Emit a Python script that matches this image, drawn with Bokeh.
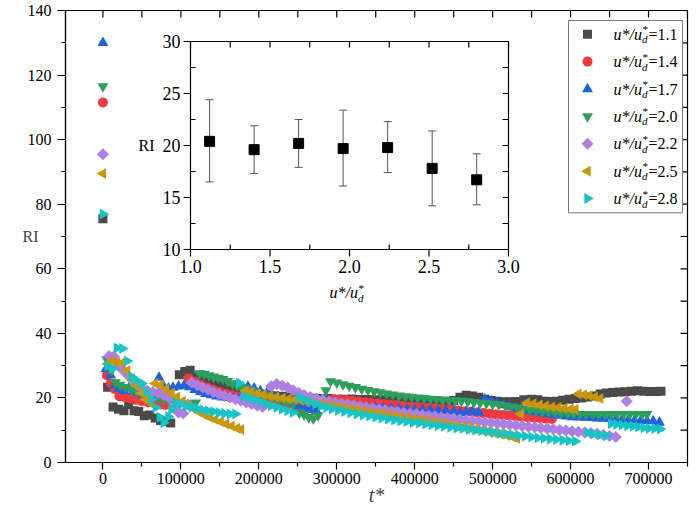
import math
from bokeh.plotting import figure
from bokeh.models import (FixedTicker, NumeralTickFormatter, ColumnDataSource, Range1d)
from bokeh.core.properties import value
from bokeh.embed import file_html
from bokeh.resources import INLINE

# ---------------- data ----------------
ratio_labels = ["1.1", "1.4", "1.7", "2.0", "2.2", "2.5", "2.8"]

grey_pts = [(0, 75.5), (6000, 23.3), (13000, 17.2), (20000, 16.5), (27000, 16.0), (33000, 18.0), (40000, 16.0),
            (46000, 15.8), (53000, 14.5), (60000, 14.7), (67000, 13.8), (74000, 13.0), (81000, 12.7), (87000, 12.2),
            (98000, 27.2), (105000, 28.2), (112000, 28.6), (120000, 26.5), (128000, 25.8), (136000, 25.2),
            (144000, 24.6), (152000, 24.0), (160000, 23.4), (168000, 22.9), (176000, 22.4), (184000, 22.0),
            (192000, 21.6), (200000, 21.3), (210000, 21.0), (220000, 20.7), (230000, 20.5), (240000, 20.3),
            (250000, 20.1), (260000, 20.0), (270000, 19.9), (280000, 19.8), (290000, 19.8), (300000, 19.6),
            (310000, 19.6), (320000, 19.7), (330000, 19.5), (340000, 19.5), (350000, 19.4), (360000, 19.4),
            (370000, 19.3), (380000, 19.3), (390000, 19.2), (400000, 19.2), (410000, 19.1), (420000, 19.1),
            (430000, 19.0), (440000, 19.0), (450000, 19.2), (458000, 20.2), (466000, 20.8), (474000, 20.6),
            (482000, 20.2), (490000, 19.6), (498000, 19.2), (506000, 19.0), (514000, 18.8), (522000, 18.8),
            (530000, 18.9), (540000, 19.4), (550000, 19.6), (558000, 19.4), (566000, 19.0), (574000, 18.9),
            (582000, 19.0), (590000, 19.3), (598000, 19.6), (606000, 19.8), (614000, 20.0), (622000, 20.3),
            (630000, 20.6), (638000, 21.2), (646000, 21.5), (654000, 21.7), (662000, 21.8), (670000, 21.9),
            (678000, 22.1), (686000, 22.2), (694000, 22.1), (702000, 22.0), (710000, 22.0), (716000, 22.1)]

red_pts = [(0, 111.5), (5000, 27.0), (10000, 24.5), (15000, 22.8), (21000, 20.5), (28000, 20.2), (35000, 19.8),
           (42000, 19.4), (50000, 19.0), (58000, 18.7), (66000, 18.3), (74000, 18.0), (80000, 17.8),
           (110000, 26.0), (118000, 25.0), (126000, 24.0), (134000, 23.2), (142000, 22.5), (150000, 21.8),
           (158000, 21.3), (166000, 20.8), (174000, 20.4), (182000, 20.0), (190000, 19.6), (198000, 19.2),
           (206000, 18.8), (214000, 18.4), (222000, 18.0), (230000, 17.7), (238000, 17.4), (246000, 17.2),
           (254000, 17.0), (262000, 16.8), (270000, 16.6),
           (296000, 19.6), (304000, 19.5), (312000, 19.3), (320000, 19.1), (328000, 18.9), (336000, 18.7),
           (344000, 18.5), (352000, 18.3), (360000, 18.1), (368000, 17.9), (376000, 17.7), (384000, 17.5),
           (392000, 17.3), (400000, 17.2), (408000, 17.0), (416000, 16.9), (424000, 16.7), (432000, 16.6),
           (440000, 16.4), (448000, 16.3), (456000, 16.1), (464000, 15.9), (472000, 15.7), (480000, 15.5),
           (488000, 15.3), (496000, 15.1), (504000, 14.9), (512000, 14.7), (520000, 14.6), (528000, 14.4),
           (536000, 14.2), (544000, 14.1), (552000, 13.9), (560000, 13.8), (568000, 13.6), (576000, 13.5)]

blue_pts = [(0, 130.0), (4000, 29.0), (10000, 27.0), (15000, 24.0), (21000, 22.8), (27000, 22.2), (33000, 23.0),
            (39000, 22.0), (45000, 21.5), (52000, 21.0), (58000, 20.6), (64000, 20.3),
            (72000, 26.3), (78000, 23.5), (84000, 23.0), (90000, 23.2), (97000, 23.6), (104000, 23.8),
            (111000, 23.4), (118000, 22.5), (125000, 21.8), (132000, 21.3), (139000, 20.9), (146000, 20.5),
            (153000, 20.2), (160000, 20.0), (167000, 19.8), (174000, 19.6),
            (186000, 23.5), (194000, 23.0), (202000, 22.2), (210000, 21.4), (218000, 20.6), (226000, 19.8),
            (234000, 19.0), (242000, 18.3), (250000, 17.6), (258000, 17.0), (266000, 16.4), (274000, 16.0),
            (282000, 17.6), (290000, 17.5), (300000, 17.4), (310000, 17.3), (320000, 17.2), (330000, 17.1),
            (340000, 17.0), (350000, 16.9), (360000, 16.8), (370000, 16.7), (380000, 16.6), (390000, 16.5),
            (400000, 16.4), (410000, 16.3), (420000, 16.2), (430000, 16.1), (440000, 16.0), (450000, 15.8),
            (458000, 15.3), (466000, 15.6), (474000, 15.8), (482000, 15.5),
            (490000, 19.6), (498000, 19.0), (506000, 18.4), (514000, 17.8), (522000, 17.3), (530000, 16.8),
            (538000, 16.4), (546000, 16.0), (554000, 15.6), (562000, 15.3), (570000, 15.0), (578000, 14.7),
            (586000, 14.5), (594000, 14.3), (602000, 14.1), (610000, 14.0), (618000, 13.9), (626000, 13.8),
            (634000, 13.7), (642000, 13.6), (650000, 13.5), (658000, 13.4), (666000, 13.3), (674000, 13.2),
            (682000, 13.1), (690000, 13.0), (698000, 12.9), (706000, 12.8), (714000, 12.4)]

green_pts = [(0, 116.5), (5000, 31.9), (11000, 28.5), (16000, 24.8), (22000, 24.0), (29000, 23.3), (36000, 22.6),
             (43000, 22.0), (50000, 21.4), (57000, 20.9), (64000, 20.4), (71000, 20.0), (78000, 19.6),
             (85000, 19.2), (92000, 18.8), (99000, 18.5), (106000, 18.2), (113000, 17.9), (119000, 18.5),
             (124000, 27.6), (130000, 27.4), (136000, 27.0), (142000, 26.6), (148000, 26.2), (154000, 25.8),
             (160000, 25.2), (166000, 24.5), (172000, 23.9), (178000, 23.3), (184000, 22.7), (190000, 22.2),
             (196000, 21.7), (202000, 21.2), (208000, 20.8), (214000, 20.4), (220000, 20.0), (226000, 19.6),
             (232000, 19.2), (238000, 18.8), (244000, 18.4),
             (252000, 15.4), (258000, 14.8), (264000, 14.0), (270000, 13.6), (276000, 14.6),
             (286000, 22.3), (292000, 25.1), (300000, 24.7), (308000, 24.2), (316000, 23.7), (324000, 23.3),
             (332000, 22.8), (340000, 22.4), (348000, 22.0), (356000, 21.7), (364000, 21.3), (372000, 21.0),
             (380000, 20.7), (388000, 20.5), (396000, 20.3), (404000, 20.1), (412000, 19.9), (420000, 19.7),
             (428000, 19.6), (436000, 19.4), (444000, 19.3), (452000, 19.2), (460000, 19.1), (468000, 18.9),
             (476000, 18.7), (484000, 18.5), (492000, 18.3), (500000, 18.1), (508000, 17.9), (516000, 17.6),
             (524000, 17.3), (532000, 17.0), (540000, 16.7), (548000, 16.4), (556000, 16.1), (564000, 15.9),
             (572000, 15.7), (580000, 15.5), (588000, 15.3), (596000, 15.2), (604000, 15.1), (612000, 15.0),
             (620000, 15.0), (628000, 15.0), (636000, 15.0), (644000, 15.0), (652000, 15.0), (660000, 15.0),
             (668000, 15.0), (676000, 15.0), (684000, 15.0), (692000, 15.0), (698000, 15.0)]

purple_pts = [(0, 95.5), (8000, 33.0), (14000, 32.8), (20000, 30.0), (26000, 28.5), (32000, 27.0), (38000, 25.5),
              (44000, 24.0), (50000, 23.0), (57000, 22.2), (64000, 21.8), (71000, 21.5), (78000, 21.0),
              (85000, 20.0), (91000, 17.0), (97000, 15.5), (103000, 15.2), (109000, 18.0),
              (114000, 24.8), (121000, 24.0), (128000, 23.2), (135000, 22.5), (142000, 21.8), (149000, 21.2),
              (156000, 20.6), (163000, 20.1), (170000, 19.6), (177000, 19.1), (184000, 18.6), (191000, 18.1),
              (198000, 17.6), (205000, 17.2),
              (216000, 23.6), (223000, 24.3), (230000, 23.8), (237000, 23.2), (244000, 22.4), (251000, 21.6),
              (258000, 20.9), (266000, 20.3), (274000, 19.8), (282000, 19.4), (290000, 19.0), (298000, 18.6),
              (306000, 18.3), (314000, 18.0), (322000, 17.7), (330000, 17.4), (338000, 17.1), (346000, 16.8),
              (354000, 16.5), (362000, 16.2), (370000, 15.9), (378000, 15.7), (386000, 15.4), (394000, 15.2),
              (402000, 15.0), (410000, 14.7), (418000, 14.5), (426000, 14.3), (434000, 14.0), (442000, 13.8),
              (450000, 13.6), (458000, 13.4), (466000, 13.1), (474000, 12.9), (482000, 12.7), (490000, 12.5),
              (498000, 12.3), (506000, 12.1), (514000, 11.9), (522000, 11.7), (530000, 11.5), (538000, 11.3),
              (546000, 11.1), (554000, 10.9), (562000, 10.7), (570000, 10.5), (578000, 10.3), (586000, 10.1),
              (594000, 9.9), (602000, 9.7), (610000, 9.5), (618000, 9.3), (626000, 9.1), (634000, 8.9),
              (642000, 8.6), (650000, 8.2), (658000, 7.9),
              (672000, 19.0)]

gold_pts = [(0, 89.5), (6000, 30.5), (12000, 31.5), (18000, 31.0), (25000, 31.0), (31000, 28.5), (37000, 26.0),
            (43000, 24.0), (49000, 21.5), (55000, 19.5), (61000, 18.5),
            (67000, 24.5), (74000, 24.0), (81000, 22.8), (88000, 21.5), (95000, 20.3), (102000, 19.0),
            (109000, 17.8), (116000, 16.7), (123000, 15.7), (130000, 14.8), (137000, 14.0), (144000, 13.3),
            (151000, 12.6), (158000, 11.9), (165000, 11.3), (172000, 10.6), (177000, 10.2),
            (183000, 22.2), (190000, 21.8), (198000, 21.3), (206000, 20.9), (214000, 20.5), (222000, 20.2),
            (230000, 19.9), (238000, 19.7), (246000, 19.5), (254000, 19.2), (262000, 18.8), (270000, 18.5),
            (278000, 18.1), (286000, 17.8), (294000, 17.5), (302000, 17.2), (310000, 16.9), (318000, 16.6),
            (326000, 16.3), (334000, 16.0), (342000, 15.7), (350000, 15.4), (358000, 15.1), (366000, 14.8),
            (374000, 14.5), (382000, 14.2), (390000, 13.9), (398000, 13.6), (406000, 13.3), (414000, 13.0),
            (422000, 12.7), (430000, 12.4), (438000, 12.1), (446000, 11.8), (454000, 11.4), (462000, 11.1),
            (470000, 10.8), (478000, 10.4), (486000, 10.0), (494000, 9.6), (502000, 9.2), (510000, 8.8),
            (518000, 8.4), (526000, 7.9), (531000, 7.5),
            (536000, 15.0), (544000, 18.5), (552000, 18.2), (560000, 17.8), (568000, 17.5), (576000, 17.2),
            (584000, 17.0), (592000, 16.8), (600000, 16.6), (606000, 16.4),
            (610000, 21.2), (617000, 21.0), (624000, 20.7), (631000, 20.3), (638000, 19.8)]

cyan_pts = [(0, 77.0), (6000, 30.0), (12000, 29.0), (18000, 35.5), (25000, 35.3), (31000, 31.4), (37000, 26.5),
            (43000, 25.5), (50000, 24.5), (56000, 22.0), (62000, 19.5), (68000, 17.0), (73000, 14.0),
            (78000, 12.3), (84000, 14.2), (88000, 16.3),
            (93000, 18.5), (100000, 18.0), (107000, 17.5), (114000, 17.1), (121000, 16.7), (128000, 16.3),
            (135000, 16.0), (142000, 15.7), (149000, 15.4), (156000, 15.2), (163000, 15.0), (170000, 15.0),
            (175000, 24.6),
            (181000, 20.5), (188000, 20.0), (195000, 19.4), (202000, 18.8), (209000, 18.2), (216000, 17.6),
            (223000, 17.0), (230000, 16.5), (237000, 16.0), (244000, 15.5),
            (252000, 20.2), (259000, 19.5), (266000, 18.8), (273000, 18.1), (280000, 17.5), (287000, 17.0),
            (294000, 16.6), (302000, 16.2), (310000, 15.8), (318000, 15.4), (326000, 15.0), (334000, 14.7),
            (342000, 14.4), (350000, 14.1), (358000, 13.8), (366000, 13.5), (374000, 13.2), (382000, 12.9),
            (390000, 12.7), (398000, 12.4), (406000, 12.2), (414000, 11.9), (422000, 11.7), (430000, 11.4),
            (438000, 11.2), (446000, 10.9), (454000, 10.7), (462000, 10.5), (470000, 10.2), (478000, 10.0),
            (486000, 9.8), (494000, 9.6), (502000, 9.3), (510000, 9.0), (518000, 8.8), (526000, 8.5),
            (534000, 8.3), (542000, 8.1), (550000, 7.9), (558000, 7.7), (566000, 7.5), (574000, 7.3),
            (582000, 7.1), (590000, 6.9), (598000, 6.7), (606000, 6.6),
            (622000, 9.2), (630000, 8.9), (638000, 8.6), (646000, 8.3),
            (652000, 12.0), (659000, 11.8), (666000, 11.6), (673000, 11.4), (680000, 11.2), (687000, 11.0),
            (694000, 10.8), (701000, 10.6), (708000, 10.5), (715000, 10.4)]

# inset: mean RI vs u*/ud* with error bars
inset_ratio = [1.12, 1.40, 1.68, 1.96, 2.24, 2.52, 2.80]
inset_mean = [20.4, 19.6, 20.2, 19.7, 19.8, 17.8, 16.7]
inset_upper = [24.4, 21.9, 22.5, 23.4, 22.3, 21.4, 19.2]
inset_lower = [16.5, 17.3, 17.9, 16.1, 17.4, 14.2, 14.3]

main_xticks = [0, 100000, 200000, 300000, 400000, 500000, 600000, 700000]
main_xminor = [-50000, 50000, 150000, 250000, 350000, 450000, 550000, 650000, 750000]
main_yticks = [0, 20, 40, 60, 80, 100, 120, 140]
main_yminor = [10, 30, 50, 70, 90, 110, 130]
inset_xticks = [1.0, 1.5, 2.0, 2.5, 3.0]
inset_xminor = [1.25, 1.75, 2.25, 2.75]
inset_yticks = [10, 15, 20, 25, 30]
inset_yminor = [12.5, 17.5, 22.5, 27.5]

# ---------------- style / layout ----------------
SERIF = "Liberation Serif"
series = [
    (grey_pts, "#4a4a4a", "square", 0.0, 9),
    (red_pts, "#f03a3f", "circle", 0.0, 10),
    (blue_pts, "#1f62dc", "triangle", 0.0, 11),
    (green_pts, "#2e9e5c", "inverted_triangle", 0.0, 11),
    (purple_pts, "#ac7fe0", "square", math.pi / 4, 8.5),
    (gold_pts, "#c9960f", "triangle", math.pi / 2, 11),
    (cyan_pts, "#18c3c6", "triangle", -math.pi / 2, 11),
]

W, H = 689, 510
BL, BR, BT, BB = 65, 2, 10, 48
FW, FH = float(W - BL - BR), float(H - BT - BB)   # frame size in px
X0, X1, Y0, Y1 = -48000, 750000, 0, 140

p = figure(width=W, height=H, x_range=Range1d(X0, X1), y_range=Range1d(Y0, Y1),
           output_backend="svg", toolbar_location=None,
           min_border_left=BL, min_border_right=BR, min_border_top=BT, min_border_bottom=BB)
p.grid.visible = False
p.outline_line_color = "black"
p.outline_line_width = 1.2
p.background_fill_color = "white"
p.border_fill_color = "white"


def style_axis(ax, tick_in, tick_out, minor_in, minor_out, size="16px"):
    ax.axis_line_color = "black"
    ax.axis_line_width = 1.2
    ax.major_tick_line_color = "black"
    ax.minor_tick_line_color = "black"
    ax.major_tick_line_width = 1.2
    ax.minor_tick_line_width = 1.2
    ax.major_tick_in = tick_in
    ax.major_tick_out = tick_out
    ax.minor_tick_in = minor_in
    ax.minor_tick_out = minor_out
    ax.major_label_text_font = SERIF
    ax.major_label_text_font_size = size
    ax.major_label_text_color = "black"


xa = p.xaxis[0]
xa.ticker = FixedTicker(ticks=main_xticks, minor_ticks=main_xminor)
xa.formatter = NumeralTickFormatter(format="0")
style_axis(xa, 0, 7, 0, 4)
xa.major_label_standoff = 3
xa.axis_label = "t*"
xa.axis_label_text_font = SERIF
xa.axis_label_text_font_style = "italic"
xa.axis_label_text_font_size = "20px"
xa.axis_label_standoff = -3

ya = p.yaxis[0]
ya.ticker = FixedTicker(ticks=main_yticks, minor_ticks=main_yminor)
style_axis(ya, 0, 8, 0, 4)
ya.major_label_standoff = 6
ya.axis_label = "RI"
ya.axis_label_orientation = "horizontal"
ya.axis_label_text_font = SERIF
ya.axis_label_text_font_style = "normal"
ya.axis_label_text_font_size = "16px"
ya.axis_label_standoff = -14

# mirrored inward ticks on top and right edges of the main frame
tick_px = 7
dx_main = tick_px * (X1 - X0) / FW
dy_main = tick_px * (Y1 - Y0) / FH
top_t = main_xticks + main_xminor
right_t = main_yticks + main_yminor
p.segment(x0=top_t, y0=[Y1] * len(top_t), x1=top_t, y1=[Y1 - dy_main] * len(top_t),
          line_color="black", line_width=1.2)
p.segment(x0=[X1] * len(right_t), y0=right_t, x1=[X1 - dx_main] * len(right_t), y1=right_t,
          line_color="black", line_width=1.2)

# ---- main scatter series ----
for pts, color, marker, angle, size in series:
    src = ColumnDataSource(dict(t=[a for a, b in pts], ri=[b for a, b in pts]))
    p.scatter("t", "ri", source=src, marker=marker, angle=angle, size=size,
              fill_color=color, line_color=None)

# ---- inset, drawn on extra ranges that map the inset box inside the frame ----
fx0, fx1 = 125 / FW, 443 / FW     # inset frame edges, px from frame left / frame width
fy0, fy1 = 31 / FH, 239 / FH      # inset frame edges, px from frame top / frame height
ixa, ixb = inset_xticks[0], inset_xticks[-1]
iya, iyb = inset_yticks[0], inset_yticks[-1]
xspan = (ixb - ixa) / (fx1 - fx0)
ix_start = ixa - fx0 * xspan
yspan = (iyb - iya) / (fy1 - fy0)
iy_start = iya - (1 - fy1) * yspan
p.extra_x_ranges = {"ix": Range1d(ix_start, ix_start + xspan), "lx": Range1d(0, FW)}
p.extra_y_ranges = {"iy": Range1d(iy_start, iy_start + yspan), "ly": Range1d(0, FH)}
PXX = (fx1 - fx0) * FW / (ixb - ixa)    # px per inset x unit
PXY = (fy1 - fy0) * FH / (iyb - iya)    # px per inset y unit
ins = dict(x_range_name="ix", y_range_name="iy")

p.quad(left=[ixa], right=[ixb], bottom=[iya], top=[iyb], fill_color="white",
       line_color="black", line_width=1.2, **ins)

# error bars
p.segment(x0=inset_ratio, y0=inset_lower, x1=inset_ratio, y1=inset_upper,
          line_color="#555555", line_width=1, **ins)
cap = 4 / PXX
p.segment(x0=[v - cap for v in inset_ratio], y0=inset_upper, x1=[v + cap for v in inset_ratio],
          y1=inset_upper, line_color="#555555", line_width=1, **ins)
p.segment(x0=[v - cap for v in inset_ratio], y0=inset_lower, x1=[v + cap for v in inset_ratio],
          y1=inset_lower, line_color="#555555", line_width=1, **ins)
p.scatter(x=inset_ratio, y=inset_mean, marker="square", size=10, fill_color="black",
          line_color="black", **ins)

# inset ticks
tk = dict(line_color="black", line_width=1.2, **ins)
maj_out, min_in, side_in = 7, 5, 6
xs_all = inset_xticks + inset_xminor
ys_all = inset_yticks + inset_yminor
p.segment(x0=inset_xticks, y0=[iya] * len(inset_xticks), x1=inset_xticks,
          y1=[iya - maj_out / PXY] * len(inset_xticks), **tk)
p.segment(x0=inset_xminor, y0=[iya] * len(inset_xminor), x1=inset_xminor,
          y1=[iya + min_in / PXY] * len(inset_xminor), **tk)
p.segment(x0=xs_all, y0=[iyb] * len(xs_all), x1=xs_all,
          y1=[iyb - side_in / PXY] * len(xs_all), **tk)
p.segment(x0=[ixa] * len(inset_yticks), y0=inset_yticks, x1=[ixa - maj_out / PXX] * len(inset_yticks),
          y1=inset_yticks, **tk)
p.segment(x0=[ixa] * len(inset_yminor), y0=inset_yminor, x1=[ixa + min_in / PXX] * len(inset_yminor),
          y1=inset_yminor, **tk)
p.segment(x0=[ixb] * len(ys_all), y0=ys_all, x1=[ixb - side_in / PXX] * len(ys_all),
          y1=ys_all, **tk)

# inset tick labels
txt = dict(text_font=value(SERIF), text_color="black")
p.text(x=inset_xticks, y=[iya] * len(inset_xticks), text=[f"{v:.1f}" for v in inset_xticks],
       y_offset=10, text_align="center", text_baseline="top", text_font_size=value("18px"), **txt, **ins)
p.text(x=[ixa] * len(inset_yticks), y=inset_yticks, text=[f"{v:d}" for v in inset_yticks],
       x_offset=-10, text_align="right", text_baseline="middle", text_font_size=value("18px"), **txt, **ins)
p.text(x=[ixa], y=[(iya + iyb) / 2], text=["RI"], x_offset=-36, text_align="right",
       text_baseline="middle", text_font_size=value("16px"), **txt, **ins)

# inset x label  u*/u_d*
midx = (ixa + ixb) / 2
p.text(x=[midx], y=[iya], text=["u*/u"], x_offset=-20, y_offset=43, text_align="left",
       text_baseline="middle", text_font_size=value("16px"), text_font_style="italic", **txt, **ins)
p.text(x=[midx], y=[iya], text=["*"], x_offset=8.5, y_offset=38, text_align="left",
       text_baseline="middle", text_font_size=value("11px"), text_font_style="italic", **txt, **ins)
p.text(x=[midx], y=[iya], text=["d"], x_offset=8.5, y_offset=48, text_align="left",
       text_baseline="middle", text_font_size=value("11px"), text_font_style="italic", **txt, **ins)

# ---- legend (frame px coordinates on extra ranges lx/ly) ----
lg = dict(x_range_name="lx", y_range_name="ly")
LR = 617.0
LL = LR - 114
LT = FH - 10
ROW = 27.4
LB = LT - 7 * ROW - 0.5
p.quad(left=[LL], right=[LR], bottom=[LB], top=[LT], fill_color="white",
       line_color="#777777", line_width=1, **lg)
rows_y = [LT - ROW / 2 - i * ROW for i in range(len(ratio_labels))]
for i, (pts, color, marker, angle, size) in enumerate(series):
    p.scatter(x=[LL + 19], y=[rows_y[i]], marker=marker, angle=angle, size=size,
              fill_color=color, line_color=None, **lg)
tx = LL + 45
n = len(ratio_labels)
p.text(x=[tx] * n, y=rows_y, text=["u*/u"] * n, text_align="left", text_baseline="middle",
       text_font_size=value("16px"), text_font_style="italic", **txt, **lg)
p.text(x=[tx] * n, y=rows_y, text=["*"] * n, x_offset=28.5, y_offset=-5, text_align="left",
       text_baseline="middle", text_font_size=value("11px"), text_font_style="italic", **txt, **lg)
p.text(x=[tx] * n, y=rows_y, text=["d"] * n, x_offset=28.5, y_offset=5, text_align="left",
       text_baseline="middle", text_font_size=value("11px"), text_font_style="italic", **txt, **lg)
p.text(x=[tx] * n, y=rows_y, text=["=" + s for s in ratio_labels], x_offset=35, text_align="left",
       text_baseline="middle", text_font_size=value("16px"), **txt, **lg)

open("out.html", "w").write(file_html(p, INLINE))
